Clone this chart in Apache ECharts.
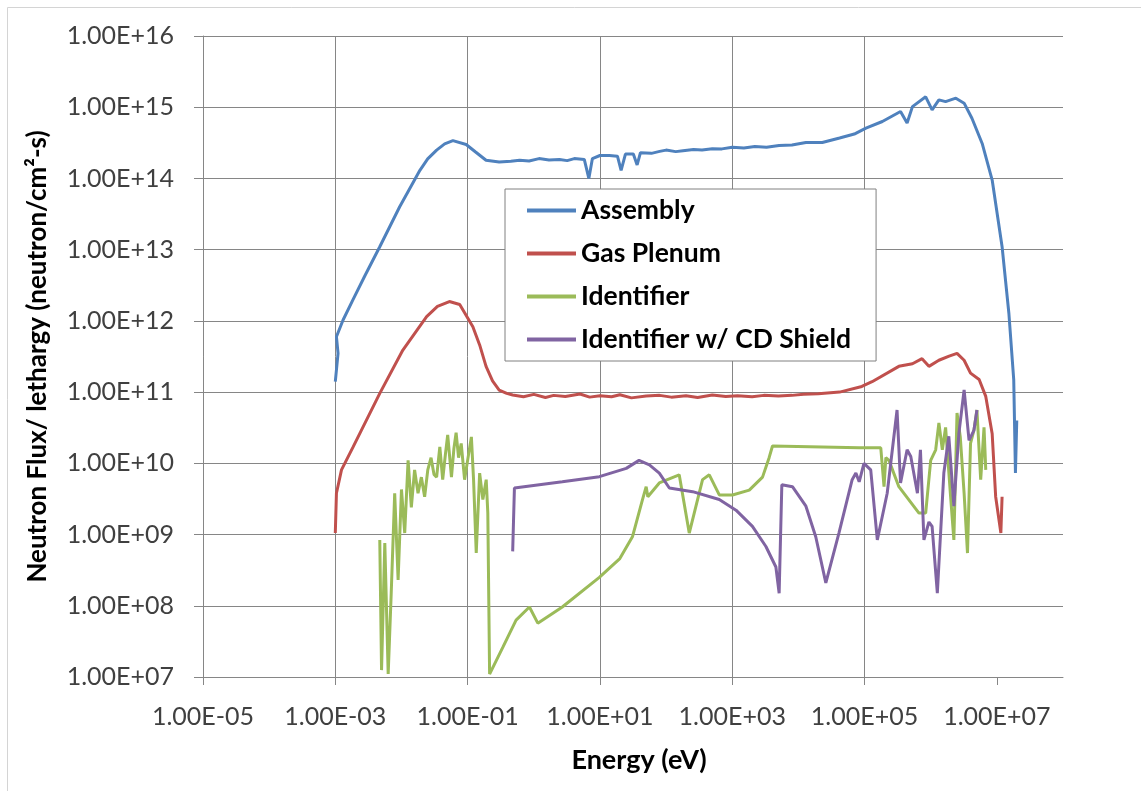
<!DOCTYPE html>
<html><head><meta charset="utf-8">
<script src="https://cdn.jsdelivr.net/npm/echarts@6/dist/echarts.min.js"></script>
<style>html,body{margin:0;padding:0;background:#fff}#c{width:1141px;height:791px}</style>
</head><body><div id="c"></div>
<script>
const seriesNames = ['Assembly', 'Gas Plenum', 'Identifier', 'Identifier w/ CD Shield'];
const seriesColors = ['#4F81BD', '#C0504D', '#9BBB59', '#8064A2'];

const assemblyEnergy = [1.0e-3, 1.1e-3, 1.04e-3, 1.31e-3, 1.86e-3, 2.8e-3, 4.7e-3, 9.4e-3, 1.9e-2, 2.49e-2, 3.4e-2, 4.5e-2, 6.0e-2, 9.5e-2, 0.132, 0.19, 0.30, 0.45, 0.61, 0.85, 1.2, 1.7, 2.45, 3.2, 4.1, 5.8, 6.8, 7.7, 10, 13.9, 18.4, 20.9, 24.3, 32, 36.5, 41, 60, 80, 100, 140, 180, 260, 350, 500, 700, 1000, 1500, 2200, 3300, 5100, 8000, 1.3e4, 2.3e4, 4.2e4, 7e4, 1.05e5, 1.86e5, 3.5e5, 4.4e5, 5.3e5, 8.4e5, 1.05e6, 1.33e6, 1.68e6, 2.4e6, 3.2e6, 4.2e6, 6.0e6, 8.5e6, 1.2e7, 1.52e7, 1.8e7, 1.91e7, 2.0e7];
const assemblyFlux = [1.4e11, 3.5e11, 6.0e11, 1.03e12, 2.0e12, 4.3e12, 1.1e13, 4.0e13, 1.3e14, 1.88e14, 2.5e14, 3.06e14, 3.4e14, 3.0e14, 2.35e14, 1.8e14, 1.7e14, 1.75e14, 1.8e14, 1.76e14, 1.9e14, 1.82e14, 1.85e14, 1.78e14, 1.9e14, 1.85e14, 1.0e14, 1.9e14, 2.1e14, 2.1e14, 2.05e14, 1.3e14, 2.2e14, 2.2e14, 1.55e14, 2.3e14, 2.25e14, 2.4e14, 2.5e14, 2.38e14, 2.45e14, 2.55e14, 2.5e14, 2.62e14, 2.6e14, 2.75e14, 2.68e14, 2.8e14, 2.75e14, 2.9e14, 2.95e14, 3.2e14, 3.2e14, 3.7e14, 4.2e14, 5.1e14, 6.3e14, 8.7e14, 6.0e14, 1.02e15, 1.4e15, 9.2e14, 1.27e15, 1.2e15, 1.34e15, 1.14e15, 7.0e14, 3.1e14, 9.5e13, 1.1e13, 1.28e12, 1.5e11, 7.3e9, 4e10];

const plenumEnergy = [1.0e-3, 1.04e-3, 1.24e-3, 1.86e-3, 4.7e-3, 1.05e-2, 2.4e-2, 3.5e-2, 5.3e-2, 7.6e-2, 0.12, 0.152, 0.19, 0.238, 0.30, 0.39, 0.48, 0.7, 1.0, 1.5, 2, 3, 5, 7, 10, 15, 20, 30, 50, 80, 120, 200, 300, 500, 800, 1200, 2000, 3000, 5000, 8000, 1.2e4, 2e4, 4.2e4, 9.1e4, 1.3e5, 3.3e5, 5.3e5, 7.4e5, 9.4e5, 1.33e6, 1.9e6, 2.5e6, 3.2e6, 4.0e6, 5.4e6, 6.8e6, 8.5e6, 9.6e6, 1.15e7, 1.2e7];
const plenumFlux = [1.05e9, 3.8e9, 8.1e9, 1.7e10, 9.6e10, 3.9e11, 1.15e12, 1.6e12, 1.87e12, 1.7e12, 8.3e11, 4.6e11, 2.3e11, 1.44e11, 1.07e11, 9.6e10, 9.1e10, 8.6e10, 9.3e10, 8.4e10, 9.0e10, 8.7e10, 9.4e10, 8.5e10, 8.9e10, 8.6e10, 9.2e10, 8.3e10, 8.8e10, 9.0e10, 8.5e10, 8.9e10, 8.4e10, 9.1e10, 8.7e10, 8.9e10, 8.6e10, 9.0e10, 8.8e10, 9.0e10, 9.3e10, 9.5e10, 1.0e11, 1.2e11, 1.4e11, 2.3e11, 2.5e11, 2.95e11, 2.3e11, 2.8e11, 3.2e11, 3.5e11, 2.8e11, 1.85e11, 1.5e11, 8.7e10, 2.6e10, 3.4e9, 1.05e9, 3.4e9];

const identifierEnergy = [4.7e-3, 5.0e-3, 5.6e-3, 6.3e-3, 7.0e-3, 7.9e-3, 8.9e-3, 1.0e-2, 1.12e-2, 1.26e-2, 1.41e-2, 1.58e-2, 1.78e-2, 2.0e-2, 2.24e-2, 2.5e-2, 2.8e-2, 3.1e-2, 3.4e-2, 3.8e-2, 4.2e-2, 4.6e-2, 5.0e-2, 5.7e-2, 6.2e-2, 6.7e-2, 7.3e-2, 8.0e-2, 9.0e-2, 0.10, 0.114, 0.123, 0.135, 0.152, 0.170, 0.191, 0.202, 0.215, 0.34, 0.54, 0.86, 1.15, 2.7, 9.8, 20, 31, 44, 50, 53, 79, 158, 224, 356, 450, 637, 1010, 1810, 2870, 3610, 4060, 8.3e4, 1.76e5, 1.97e5, 2.1e5, 2.34e5, 3.3e5, 6.65e5, 8.4e5, 1.0e6, 1.19e6, 1.33e6, 1.5e6, 1.68e6, 2.0e6, 2.24e6, 2.5e6, 2.8e6, 3.2e6, 3.6e6, 4.0e6, 4.5e6, 5.0e6, 5.7e6, 6.4e6, 6.8e6];
const identifierFlux = [8.4e8, 1.25e7, 7.6e8, 1.1e7, 1.5e8, 3.8e9, 2.3e8, 4.3e9, 1.05e9, 1.1e10, 2.4e9, 8.1e9, 3.8e9, 6.4e9, 3.4e9, 8.1e9, 1.2e10, 7.0e9, 6.4e9, 1.7e10, 5.9e9, 1.3e10, 2.5e10, 6.4e9, 1.6e10, 2.7e10, 1.2e10, 1.9e10, 5.9e9, 1.1e10, 2.35e10, 5.9e9, 5.5e8, 7.3e9, 3.1e9, 5.9e9, 2.0e9, 1.1e7, 2.6e7, 6.3e7, 9.6e7, 5.7e7, 9.6e7, 2.5e8, 4.6e8, 9.3e8, 3.1e9, 4.7e9, 3.4e9, 5.3e9, 6.9e9, 1.05e9, 5.9e9, 6.9e9, 3.6e9, 3.6e9, 4.2e9, 6.4e9, 1.2e10, 1.75e10, 1.65e10, 1.65e10, 4.7e9, 1.2e10, 1.1e10, 4.7e9, 2.0e9, 2.0e9, 1.1e10, 1.55e10, 3.7e10, 1.55e10, 3.2e10, 3.4e9, 8.4e8, 5.1e10, 2.35e10, 3.8e9, 5.5e8, 1.9e10, 2.9e10, 5.6e10, 5.9e9, 3.2e10, 8.1e9];

const shieldEnergy = [0.48, 0.51, 2.7, 9.8, 25, 39, 56, 79, 112, 252, 637, 1140, 2020, 3230, 4570, 5120, 5620, 8130, 1.3e4, 1.83e4, 2.6e4, 4.1e4, 6.5e4, 7.4e4, 8.3e4, 9.8e4, 1.24e5, 1.56e5, 2.2e5, 3.1e5, 3.5e5, 4.4e5, 5.0e5, 6.3e5, 7.0e5, 7.9e5, 9.4e5, 1.05e6, 1.26e6, 1.58e6, 1.88e6, 2.24e6, 2.67e6, 3.2e6, 3.8e6, 4.5e6, 5.0e6];
const shieldFlux = [5.8e8, 4.5e9, 5.5e9, 6.5e9, 8.5e9, 1.1e10, 9.5e9, 7.3e9, 4.5e9, 4.0e9, 3.1e9, 2.2e9, 1.3e9, 6.8e8, 3.5e8, 1.5e8, 5.0e9, 4.7e9, 2.5e9, 9.3e8, 2.1e8, 1.05e9, 5.9e9, 7.3e9, 5.5e9, 1.0e10, 8.1e9, 8.4e8, 3.8e9, 5.6e10, 5.3e9, 1.55e10, 1.25e10, 3.8e9, 1.55e10, 8.4e8, 1.5e9, 1.3e9, 1.5e8, 7.3e9, 2.4e10, 2.5e9, 2.65e10, 1.07e11, 2.1e10, 2.9e10, 5.6e10];

const xTickValues = [1e-5, 1e-3, 1e-1, 1e1, 1e3, 1e5, 1e7];
const xAxisMin = 1e-5, xAxisMax = 1e8;
const yAxisMin = 1e7, yAxisMax = 1e16;

function sciLabel(v) {
  const e = Math.round(Math.log10(v));
  return '1.00E' + (e < 0 ? '-' : '+') + String(Math.abs(e)).padStart(2, '0');
}
function pairs(xs, ys) { return xs.map((x, i) => [x, ys[i]]); }

const energies = [assemblyEnergy, plenumEnergy, identifierEnergy, shieldEnergy];
const fluxes = [assemblyFlux, plenumFlux, identifierFlux, shieldFlux];

const FONT = 'Lato';
const chart = echarts.init(document.getElementById('c'), null, {renderer: 'canvas'});
chart.setOption({
  animation: false,
  backgroundColor: '#fff',
  graphic: [{
    type: 'rect', shape: {x: 7.5, y: 7.5, width: 1140, height: 790},
    style: {fill: 'none', stroke: '#d4d4d4', lineWidth: 1}, z: -1
  }],
  grid: {left: 203, right: 78, top: 36, bottom: 114, containLabel: false},
  xAxis: {
    type: 'log', logBase: 10, min: xAxisMin, max: xAxisMax, interval: 2,
    name: 'Energy (eV)', nameLocation: 'middle', nameGap: 70,
    nameTextStyle: {fontFamily: FONT, fontWeight: 'bold', fontSize: 27, color: '#000', padding: [0, 0, 0, 12]},
    axisLine: {show: true, lineStyle: {color: '#868686', width: 1}},
    axisTick: {show: true, length: 8, lineStyle: {color: '#868686'}, customValues: xTickValues},
    axisLabel: {formatter: sciLabel, margin: 27, customValues: xTickValues,
      fontFamily: FONT, fontSize: 25, color: '#404040'},
    splitLine: {show: true, showMaxLine: false, lineStyle: {color: '#868686', width: 1}},
    minorTick: {show: false}, minorSplitLine: {show: false}
  },
  yAxis: {
    type: 'log', logBase: 10, min: yAxisMin, max: yAxisMax, interval: 1,
    name: 'Neutron Flux/ lethargy (neutron/cm²-s)', nameLocation: 'middle', nameGap: 152, nameRotate: 90,
    nameTextStyle: {fontFamily: FONT, fontWeight: 'bold', fontSize: 26, color: '#000'},
    axisLine: {show: true, lineStyle: {color: '#868686', width: 1}},
    axisTick: {show: true, length: 9, lineStyle: {color: '#868686'}},
    axisLabel: {formatter: sciLabel, margin: 29, fontFamily: FONT, fontSize: 25, color: '#404040'},
    splitLine: {show: true, lineStyle: {color: '#868686', width: 1}}
  },
  legend: {
    orient: 'vertical', left: 505, top: 189,
    padding: [8, 25, 8, 22], itemWidth: 49, itemHeight: 4, itemGap: 16, icon: 'rect',
    borderColor: '#808080', borderWidth: 1, backgroundColor: '#fff',
    textStyle: {fontFamily: FONT, fontWeight: 'bold', fontSize: 26.5, color: '#000', lineHeight: 25},
    data: seriesNames
  },
  series: seriesNames.map((n, i) => ({
    name: n, type: 'line', data: pairs(energies[i], fluxes[i]),
    showSymbol: false, symbol: 'none', smooth: false,
    color: seriesColors[i],
    lineStyle: {color: seriesColors[i], width: 3},
    itemStyle: {color: seriesColors[i]}
  }))
});
</script></body></html>
